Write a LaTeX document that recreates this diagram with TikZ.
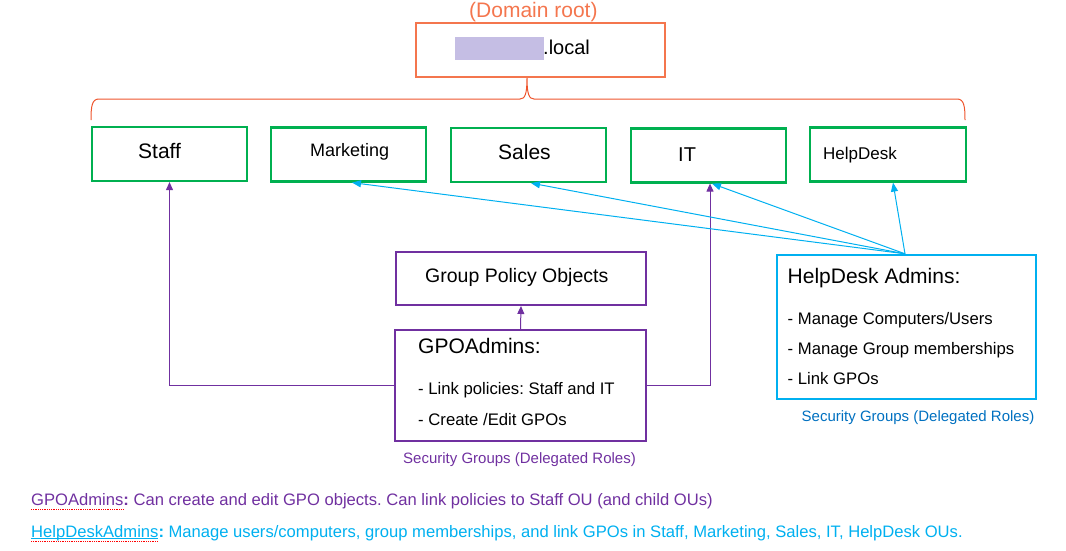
\documentclass[tikz,border=0pt]{standalone}
\usepackage{fontspec}
\setmainfont{Liberation Sans}
\usetikzlibrary{arrows.meta}
\definecolor{rootorange}{RGB}{244,118,78}
\definecolor{braceorange}{RGB}{238,84,44}
\definecolor{ougreen}{RGB}{0,176,80}
\definecolor{grppurple}{RGB}{112,48,160}
\definecolor{hdcyan}{RGB}{0,176,240}
\definecolor{capblue}{RGB}{0,112,192}
\definecolor{lavender}{RGB}{197,190,228}
\newcommand\fsz[1]{\fontsize{#1}{#1}\selectfont}
\frenchspacing
\tikzset{
  txt/.style={anchor=base west, inner sep=0pt},
  ou/.style={draw=ougreen, line width=2.2pt, minimum width=155pt, minimum height=54pt, inner sep=0pt},
  gpbox/.style={draw=grppurple, line width=2pt, inner sep=0pt},
  purparrow/.style={draw=grppurple, line width=1pt, -{Triangle[length=8pt,width=7pt]}},
  cyanarrow/.style={draw=hdcyan, line width=1pt, -{Triangle[length=9pt,width=7pt]}}
}
\begin{document}
\begin{tikzpicture}[x=1pt, y=-1pt]
    \useasboundingbox (0,0) rectangle (1066,550);
    \node[draw=rootorange, line width=2pt, minimum width=249pt, minimum height=54pt, inner sep=0pt] (root) at (540.5,50) {};
    \fill[lavender] (455,37) rectangle (544,60);
    \node[txt, font=\fsz{20}] (rootT) at (543,54) {.local};
    \node[txt, font=\fsz{21}, text=rootorange] (rootL) at (469,17) {(Domain root)};
    \draw[braceorange, line width=1pt] (91,120) .. controls (91,106) and (92,99) .. (99,99) -- (520,99)
      .. controls (525,99) and (527,94) .. (527,78) .. controls (527,94) and (529,99) .. (534,99)
      -- (957,99) .. controls (964,99) and (965,106) .. (965,120);

    \node[ou] (staff) at (169.5,154) {};
    \node[txt, font=\fsz{21}] (staffT) at (138,158) {Staff};
    \node[ou] (mkt) at (348.5,154.5) {};
    \node[txt, font=\fsz{18}] (mktT) at (310,156) {Marketing};
    \node[ou] (sales) at (528.5,155) {};
    \node[txt, font=\fsz{21}] (salesT) at (498,159) {Sales};
    \node[ou] (it) at (708.5,155.5) {};
    \node[txt, font=\fsz{20}] (itT) at (678,161) {IT};
    \node[ou, minimum width=156pt] (hd) at (888,154.5) {};
    \node[txt, font=\fsz{17}] (hdT) at (823,159) {HelpDesk};

    \node[gpbox, minimum width=250pt, minimum height=53pt] (gpo) at (521,278.5) {};
    \node[txt, font=\fsz{19.5}] (gpoT) at (425,282) {Group Policy Objects};
    \node[gpbox, minimum width=251pt, minimum height=111pt] (gpoadm) at (520.5,385.5) {};
    \node[txt, font=\fsz{21}] (gpoadmT) at (418,353) {GPOAdmins:};
    \node[txt, font=\fsz{16.7}] (gpoadmA) at (418,394) {- Link policies: Staff and IT};
    \node[txt, font=\fsz{16.7}] (gpoadmB) at (418,425) {- Create /Edit GPOs};
    \node[txt, font=\fsz{15}, text=grppurple] (gpoadmC) at (403,463) {Security Groups (Delegated Roles)};

    \node[draw=hdcyan, line width=2.4pt, minimum width=259pt, minimum height=144pt, inner sep=0pt] (hdadm) at (906.5,327) {};
    \node[txt, font=\fsz{21}] (hdadmT) at (787.5,283) {HelpDesk Admins:};
    \node[txt, font=\fsz{16.7}] (hdadmA) at (787.5,324) {- Manage Computers/Users};
    \node[txt, font=\fsz{16.7}] (hdadmB) at (787.5,354) {- Manage Group memberships};
    \node[txt, font=\fsz{16.7}] (hdadmC) at (787.5,384) {- Link GPOs};
    \node[txt, font=\fsz{15}, text=capblue] (hdadmD) at (801.5,421.5) {Security Groups (Delegated Roles)};

    \draw[purparrow] (gpoadm.north) -- (gpo.south);
    \draw[purparrow] (gpoadm.west) -| (staff.south);
    \draw[purparrow] (gpoadm.east) -| ([xshift=1.5pt]it.south);
    \foreach \ou/\dx in {mkt/3.5, sales/2.5, it/3.5, hd/5}
      \draw[cyanarrow] ([xshift=-1.5pt]hdadm.north) -- ([xshift=\dx pt]\ou.south);

    \node[txt, font=\fsz{16.6}, text=grppurple] (noteA) at (31,505) {GPOAdmins\textbf{:} Can create and edit GPO objects. Can link policies to Staff OU (and child OUs)};
    \node[txt, font=\fsz{16.6}, text=hdcyan] (noteB) at (31,537) {HelpDeskAdmins\textbf{:} Manage users/computers, group memberships, and link GPOs in Staff, Marketing, Sales, IT, HelpDesk OUs.};
    \draw[red, densely dotted, line width=0.8pt] (31,509) -- (123,509);
    \draw[hdcyan, line width=0.8pt] (31,538.5) -- (158,538.5);
    \draw[red, densely dotted, line width=0.8pt] (31,541) -- (158,541);
  \end{tikzpicture}
\end{document}
